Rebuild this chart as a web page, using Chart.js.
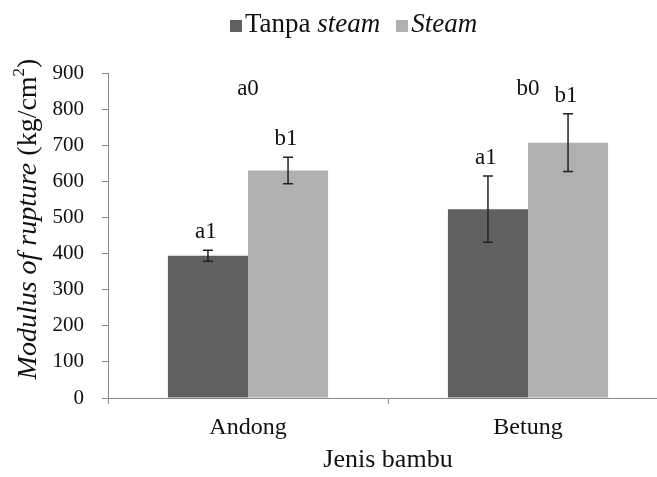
<!DOCTYPE html>
<html>
<head>
<meta charset="utf-8">
<script src="https://cdn.jsdelivr.net/npm/chart.js@4"></script>
<style>
  body { margin: 0; background: #fff; overflow: hidden; }
  #wrap { position: relative; width: 657px; height: 477px; overflow: hidden; }
  #legenda { position: absolute; top: 8px; left: 230px; font-family: "Liberation Serif", serif; font-size: 27px; color: #111; white-space: nowrap; }
  #legenda .kotak { display: inline-block; width: 12px; height: 12px; margin-right: 3px; }
</style>
</head>
<body>
<div id="wrap">
  <canvas id="grafik" width="690" height="477"></canvas>
  <div id="legenda">
    <span class="kotak" style="background:#606060"></span>Tanpa <i>steam</i><span class="kotak" style="background:#b0b0b0; margin-left:16px"></span><i>Steam</i>
  </div>
</div>
<script>
const kategori = ['Andong', 'Betung'];
const tanpaSteam = [394, 523];
const steam = [630, 707];
const galatTanpa = [15, 92];
const galatSteam = [37, 80];
const hurufTanpa = ['a1', 'a1'];
const hurufSteam = ['b1', 'b1'];
const hurufJenis = ['a0', 'b0'];
const posisiHurufJenis = 855;
const yTicks = [0, 100, 200, 300, 400, 500, 600, 700, 800, 900];

const FONT = '"Liberation Serif", "Times New Roman", serif';

// error bars + huruf notasi + judul sumbu Y
const pluginGalat = {
  id: 'galat',
  afterDatasetsDraw(chart) {
    const ctx = chart.ctx;
    const y = chart.scales.y;
    const galat = [galatTanpa, galatSteam];
    const huruf = [hurufTanpa, hurufSteam];
    ctx.save();
    ctx.font = '23px ' + FONT;
    ctx.textAlign = 'center';
    ctx.textBaseline = 'middle';
    chart.data.datasets.forEach((ds, i) => {
      const meta = chart.getDatasetMeta(i);
      meta.data.forEach((bar, j) => {
        const v = ds.data[j];
        const atas = y.getPixelForValue(v + galat[i][j]);
        const bawah = y.getPixelForValue(v - galat[i][j]);
        ctx.strokeStyle = '#222';
        ctx.lineWidth = 1.5;
        ctx.beginPath();
        ctx.moveTo(bar.x, atas);
        ctx.lineTo(bar.x, bawah);
        ctx.moveTo(bar.x - 5, atas);
        ctx.lineTo(bar.x + 5, atas);
        ctx.moveTo(bar.x - 5, bawah);
        ctx.lineTo(bar.x + 5, bawah);
        ctx.stroke();
        ctx.fillStyle = '#111';
        ctx.fillText(huruf[i][j], bar.x - 2, atas - 18);
      });
    });
    const x = chart.scales.x;
    hurufJenis.forEach((h, j) => {
      ctx.fillText(h, x.getPixelForValue(j), y.getPixelForValue(posisiHurufJenis));
    });

    // judul sumbu Y: italic + normal
    ctx.translate(29, 219);
    ctx.rotate(-Math.PI / 2);
    ctx.textAlign = 'left';
    const bag1 = 'Modulus of rupture ';
    const bag2 = '(kg/cm';
    const bag3 = '2';
    const bag4 = ')';
    ctx.font = 'italic 28px ' + FONT;
    const w1 = ctx.measureText(bag1).width;
    ctx.font = '28px ' + FONT;
    const w2 = ctx.measureText(bag2).width;
    const w4 = ctx.measureText(bag4).width;
    ctx.font = '17px ' + FONT;
    const w3 = ctx.measureText(bag3).width;
    let px = -(w1 + w2 + w3 + w4) / 2;
    ctx.font = 'italic 28px ' + FONT;
    ctx.fillText(bag1, px, 0); px += w1;
    ctx.font = '28px ' + FONT;
    ctx.fillText(bag2, px, 0); px += w2;
    ctx.font = '17px ' + FONT;
    ctx.fillText(bag3, px, -9); px += w3;
    ctx.font = '28px ' + FONT;
    ctx.fillText(bag4, px, 0);
    ctx.restore();
  }
};

new Chart(document.getElementById('grafik'), {
  type: 'bar',
  data: {
    labels: kategori,
    datasets: [
      { label: 'Tanpa steam', data: tanpaSteam, backgroundColor: '#606060' },
      { label: 'Steam', data: steam, backgroundColor: '#b0b0b0' }
    ]
  },
  options: {
    responsive: false,
    animation: false,
    categoryPercentage: 0.572,
    barPercentage: 1,
    layout: { padding: { top: 73, right: 22, left: 0, bottom: 0 } },
    plugins: { legend: { display: false }, tooltip: { enabled: false } },
    scales: {
      x: {
        grid: { offset: true, drawOnChartArea: false, tickLength: 6, color: '#888' },
        border: { color: '#888' },
        ticks: { color: '#111', font: { family: FONT, size: 24 }, padding: 9 },
        title: { display: true, text: 'Jenis bambu', color: '#111', font: { family: FONT, size: 26, lineHeight: 1 }, padding: { top: 2 } },
        afterFit(scale) { scale.height = 79; }
      },
      y: {
        min: 0,
        max: 900,
        afterBuildTicks(scale) { scale.ticks = yTicks.map(v => ({ value: v })); },
        grid: { drawOnChartArea: false, tickLength: 6, color: '#888' },
        border: { color: '#888' },
        ticks: { color: '#111', font: { family: FONT, size: 21 }, padding: 18 },
        afterFit(scale) { scale.width = 108; }
      }
    }
  },
  plugins: [pluginGalat]
});
</script>
</body>
</html>
